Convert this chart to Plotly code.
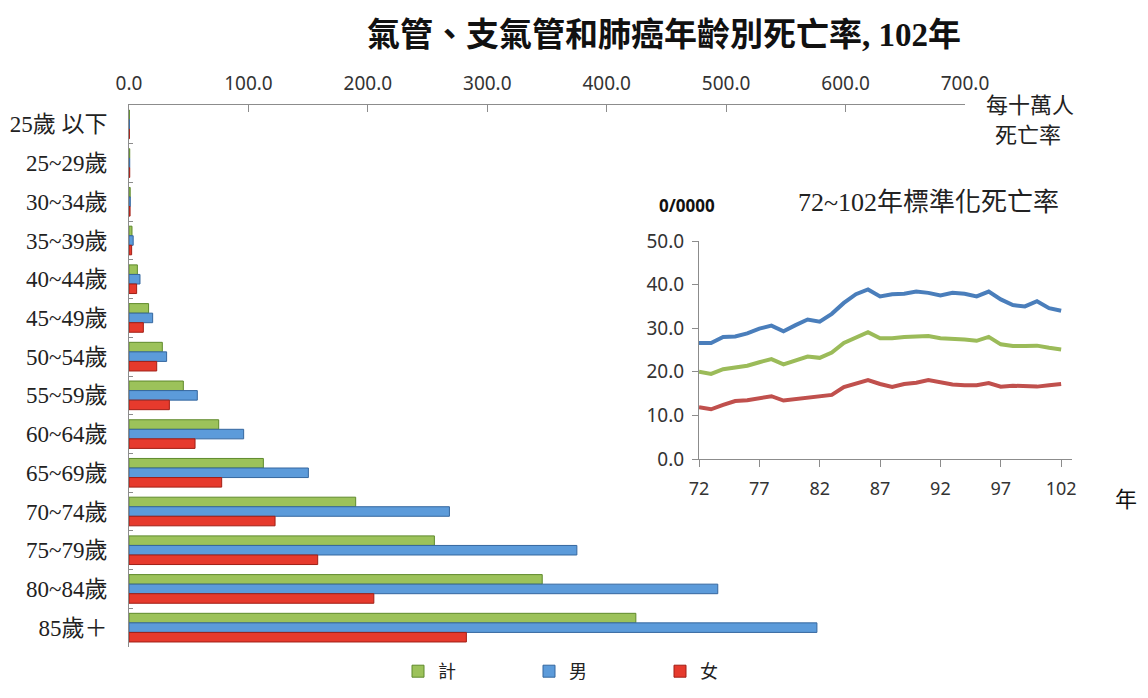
import plotly.graph_objects as go

# 102年 年齡別死亡率 (每十萬人)
age_groups = ["25歲 以下", "25~29歲", "30~34歲", "35~39歲", "40~44歲", "45~49歲", "50~54歲",
              "55~59歲", "60~64歲", "65~69歲", "70~74歲", "75~79歲", "80~84歲", "85歲＋"]
total_rate = [0.3, 0.6, 1.0, 2.5, 7.0, 16.4, 27.9, 45.5, 75.1, 112.5, 189.8, 255.7, 346.0, 424.4]
male_rate = [0.3, 0.6, 1.1, 3.5, 9.2, 19.8, 31.5, 57.2, 96.0, 150.2, 268.3, 375.0, 493.0, 576.0]
female_rate = [0.3, 0.6, 0.9, 2.2, 6.4, 12.0, 23.2, 33.8, 55.3, 77.6, 122.3, 158.0, 205.0, 282.5]

# 72~102年 標準化死亡率
years = list(range(72, 103))
std_male = [26.6, 26.6, 28.0, 28.1, 28.8, 29.9, 30.6, 29.3, 30.7, 32.0, 31.5, 33.3, 35.8, 37.8, 38.9,
            37.3, 37.8, 37.9, 38.4, 38.1, 37.5, 38.1, 37.9, 37.3, 38.4, 36.6, 35.3, 35.0, 36.2, 34.6, 34.0]
std_total = [20.0, 19.5, 20.6, 21.0, 21.4, 22.2, 22.9, 21.7, 22.6, 23.5, 23.2, 24.4, 26.6, 27.9, 29.1,
             27.7, 27.7, 28.0, 28.2, 28.2, 27.7, 27.6, 27.4, 27.1, 28.0, 26.3, 25.9, 25.9, 26.0, 25.5, 25.1]
std_female = [11.9, 11.4, 12.4, 13.3, 13.5, 14.0, 14.4, 13.4, 13.7, 14.0, 14.3, 14.7, 16.5, 17.3, 18.1,
              17.2, 16.5, 17.2, 17.5, 18.1, 17.5, 17.1, 16.9, 16.9, 17.4, 16.6, 16.8, 16.8, 16.6, 16.9, 17.2]

# page body keeps its default 8px margin, so the figure is 16px smaller than the window
OFF = 8
W, H = 1148 - 2 * OFF, 698 - 2 * OFF
serif = "Liberation Serif, Noto Sans CJK TC"
cjk = "Noto Sans CJK TC"
sans = "Noto Sans, Open Sans"


def px_x(x):
    return (x - OFF) / W


def px_y(y):
    return 1 - (y - OFF) / H


fig = go.Figure()

bar_styles = [
    ("計", total_rate, "#9CC25A", "#5F8A2C"),
    ("男", male_rate, "#5C9BDA", "#35679F"),
    ("女", female_rate, "#E63A2D", "#A11F16"),
]
for name, vals, color, edge in bar_styles:
    fig.add_trace(go.Bar(
        x=vals, y=age_groups, orientation="h", name=name,
        marker=dict(color=color, line=dict(color=edge, width=1)),
        xaxis="x", yaxis="y",
    ))

line_styles = [
    ("男", std_male, "#4A7EBB"),
    ("計", std_total, "#9BBB59"),
    ("女", std_female, "#C0504D"),
]
for name, vals, color in line_styles:
    fig.add_trace(go.Scatter(
        x=years, y=vals, mode="lines", name=name, showlegend=False,
        line=dict(color=color, width=4),
        xaxis="x2", yaxis="y2",
    ))

fig.update_layout(
    width=W, height=H,
    margin=dict(l=0, r=0, t=0, b=0, autoexpand=False),
    paper_bgcolor="white", plot_bgcolor="rgba(0,0,0,0)",
    barmode="group", bargap=0.26, bargroupgap=0.0,
    showlegend=True,
    legend=dict(
        orientation="h", x=px_x(398), xanchor="left", y=0.0, yanchor="bottom",
        entrywidth=86, entrywidthmode="pixels", traceorder="normal",
        font=dict(family=cjk, size=18, color="#222"), itemwidth=30,
    ),
    xaxis=dict(
        domain=[px_x(129), px_x(965)], range=[0, 700], side="top", anchor="y",
        dtick=100, tickformat=".1f", showgrid=False, zeroline=False,
        showline=True, linecolor="#8C8C8C", linewidth=1,
        ticks="inside", ticklen=7, tickcolor="#8C8C8C", ticklabelstandoff=6,
        tickfont=dict(family=sans, size=19, color="#333"),
    ),
    yaxis=dict(
        domain=[px_y(647), px_y(105)], autorange="reversed", anchor="x",
        showgrid=False, showline=True, linecolor="#8C8C8C", linewidth=1,
        ticks="inside", ticklen=4, tickcolor="#8C8C8C", tickson="boundaries",
        ticklabelstandoff=16,
        tickfont=dict(family=serif, size=23, color="#222"),
    ),
    xaxis2=dict(
        domain=[px_x(699), px_x(1072)], range=[72, 102.9], anchor="y2",
        tickvals=[72, 77, 82, 87, 92, 97, 102], showgrid=False, zeroline=False,
        showline=True, linecolor="#8C8C8C", linewidth=1,
        ticks="outside", ticklen=7, tickcolor="#8C8C8C", ticklabelstandoff=6,
        tickfont=dict(family=sans, size=18, color="#333"),
    ),
    yaxis2=dict(
        domain=[px_y(459), px_y(241)], range=[0, 50], anchor="x2",
        dtick=10, tickformat=".1f", showgrid=False, zeroline=False,
        showline=True, linecolor="#8C8C8C", linewidth=1,
        ticks="outside", ticklen=6, tickcolor="#8C8C8C", ticklabelstandoff=4,
        tickfont=dict(family=sans, size=19, color="#333"),
    ),
)

annotations = [
    dict(text="<b>氣管、支氣管和肺癌年齡別死亡率, 102年</b>", x=px_x(664), y=px_y(35),
         font=dict(family=serif, size=33, color="#111")),
    dict(text="每十萬人", x=px_x(1030), y=px_y(103), font=dict(family=cjk, size=22, color="#222")),
    dict(text="死亡率", x=px_x(1028), y=px_y(133), font=dict(family=cjk, size=22, color="#222")),
    dict(text="<b>0/0000</b>", x=px_x(687), y=px_y(206), font=dict(family=sans, size=17, color="#111")),
    dict(text="72~102年標準化死亡率", x=px_x(928), y=px_y(203), font=dict(family=serif, size=26, color="#222")),
    dict(text="年", x=px_x(1126), y=px_y(497), font=dict(family=cjk, size=22, color="#111")),
]
for a in annotations:
    fig.add_annotation(xref="paper", yref="paper", showarrow=False,
                       xanchor="center", yanchor="middle", **a)

fig.write_html("out.html")
